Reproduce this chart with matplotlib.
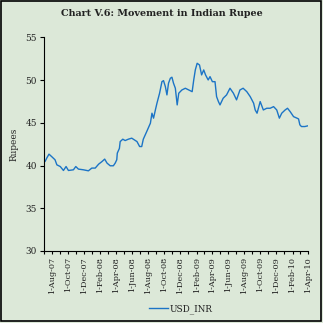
import matplotlib
matplotlib.use("Agg")
import matplotlib.pyplot as plt
import matplotlib.dates as mdates
from matplotlib.patches import Rectangle
from matplotlib.ticker import FuncFormatter
import pandas as pd

title = "Chart V.6: Movement in Indian Rupee"
y_label = "Rupees"
series_name = "USD_INR"

dates = [
    "2007-07-01", "2007-07-05", "2007-07-12", "2007-07-20", "2007-07-30", "2007-08-12", "2007-08-19",
    "2007-09-01", "2007-09-13", "2007-09-23", "2007-10-02", "2007-10-21", "2007-10-30",
    "2007-11-09", "2007-11-28", "2007-12-17", "2007-12-30", "2008-01-12", "2008-01-25",
    "2008-02-07", "2008-02-17", "2008-02-26", "2008-03-09", "2008-03-21", "2008-03-28",
    "2008-04-03", "2008-04-05", "2008-04-13", "2008-04-16", "2008-04-26", "2008-05-05",
    "2008-05-17", "2008-05-30", "2008-06-09", "2008-06-19", "2008-06-29", "2008-07-07",
    "2008-07-13", "2008-07-26", "2008-08-09", "2008-08-15", "2008-08-21", "2008-08-28",
    "2008-09-03", "2008-09-13", "2008-09-22", "2008-09-28", "2008-10-05", "2008-10-11",
    "2008-10-17", "2008-10-24", "2008-10-30", "2008-11-05", "2008-11-12", "2008-11-19",
    "2008-11-25", "2008-12-07", "2008-12-20", "2009-01-02", "2009-01-15", "2009-01-21",
    "2009-01-27", "2009-02-03", "2009-02-12", "2009-02-20", "2009-02-28", "2009-03-07",
    "2009-03-17", "2009-03-24", "2009-04-02", "2009-04-12", "2009-04-18", "2009-04-25",
    "2009-05-01", "2009-05-13", "2009-05-26", "2009-06-08", "2009-06-21", "2009-07-03",
    "2009-07-16", "2009-07-28", "2009-08-11", "2009-08-24", "2009-09-06", "2009-09-12",
    "2009-09-19", "2009-10-01", "2009-10-13", "2009-10-26", "2009-11-08", "2009-11-21",
    "2009-12-03", "2009-12-13", "2009-12-22", "2010-01-04", "2010-01-13", "2010-01-23",
    "2010-02-05", "2010-02-18", "2010-02-24", "2010-03-01", "2010-03-07", "2010-03-20",
    "2010-03-31",
]
usd_inr = [
    40.45, 40.47, 40.9, 41.33, 41.05, 40.67, 40.08,
    39.88, 39.42, 39.88, 39.42, 39.5, 39.88,
    39.58, 39.5, 39.38, 39.7, 39.7, 40.16,
    40.47, 40.75, 40.28, 39.97, 39.97, 40.28,
    40.67, 41.45, 42.0, 42.8, 43.08, 42.92,
    43.08, 43.2, 43.0, 42.8, 42.22, 42.22,
    43.08, 43.97, 44.95, 46.12, 45.54, 46.5,
    47.29, 48.46, 49.81, 49.93, 49.23, 48.26,
    49.63, 50.21, 50.33, 49.63, 49.04, 47.09,
    48.46, 48.84, 49.04, 48.84, 48.64, 50.01,
    51.18, 51.96, 51.76, 50.6, 51.18, 50.6,
    50.01, 50.4, 49.81, 49.81, 48.06, 47.48,
    47.09, 47.87, 48.26, 49.04, 48.46, 47.68,
    48.84, 49.04, 48.64, 48.06, 47.29, 46.5,
    46.12, 47.48, 46.5, 46.7, 46.7, 46.89,
    46.5, 45.54, 46.12, 46.5, 46.7, 46.31,
    45.72, 45.54, 45.45, 44.76, 44.56, 44.56,
    44.64,
]
y_ticks = [30, 35, 40, 45, 50, 55]

x = pd.to_datetime(dates)

bg = "#dce8d8"
line_color = "#1c74c6"
serif = ["DejaVu Serif"]

fig = plt.figure(figsize=(3.23, 3.23), dpi=100, facecolor=bg)
ax = fig.add_axes([44 / 323, 1 - 251 / 323, 264 / 323, (251 - 37.3) / 323])
ax.set_facecolor(bg)

ax.plot(x, usd_inr, color=line_color, lw=1.0, label=series_name)

ax.set_ylim(30, 55)
ax.set_yticks(y_ticks)
ax.set_xlim(pd.Timestamp("2007-07-01"), pd.Timestamp("2010-04-01"))

major = pd.date_range("2007-08-01", "2010-04-01", freq="2MS")
ax.set_xticks(major)
ax.xaxis.set_minor_locator(mdates.MonthLocator())
ax.xaxis.set_major_formatter(FuncFormatter(
    lambda v, p: (lambda d: f"{d.day}-{d:%b-%y}")(mdates.num2date(v))))

for s in ["top", "right"]:
    ax.spines[s].set_visible(False)
for s in ["left", "bottom"]:
    ax.spines[s].set_linewidth(0.8)
    ax.spines[s].set_color("black")

ax.tick_params(axis="y", direction="out", length=3, width=0.8, pad=2, labelsize=6.4)
ax.tick_params(axis="x", which="both", direction="out", length=2.5, width=0.8, pad=2,
               labelsize=5.9, rotation=90)
for lab in ax.get_xticklabels() + ax.get_yticklabels():
    lab.set_family(serif)
    lab.set_color("#222222")

ax.set_ylabel(y_label, fontsize=6.4, family=serif, color="#222222", labelpad=5)

fig.text(0.5, 1 - 13 / 323, title, ha="center", va="center", fontsize=6.9,
         fontweight="bold", family=serif, color="#222222")

leg = fig.legend(loc="center", bbox_to_anchor=(0.56, 1 - 309 / 323), frameon=False,
                 prop={"family": serif, "size": 6.4}, handlelength=2.2, handletextpad=0.2)
for t in leg.get_texts():
    t.set_color("#222222")

fig.patches.append(Rectangle((0.5 / 323, 1 - 320.5 / 323), 320.5 / 323, 320 / 323,
                             transform=fig.transFigure, fill=False, lw=1.2,
                             edgecolor="black"))

fig.savefig("out.png", dpi=100, facecolor=bg)
